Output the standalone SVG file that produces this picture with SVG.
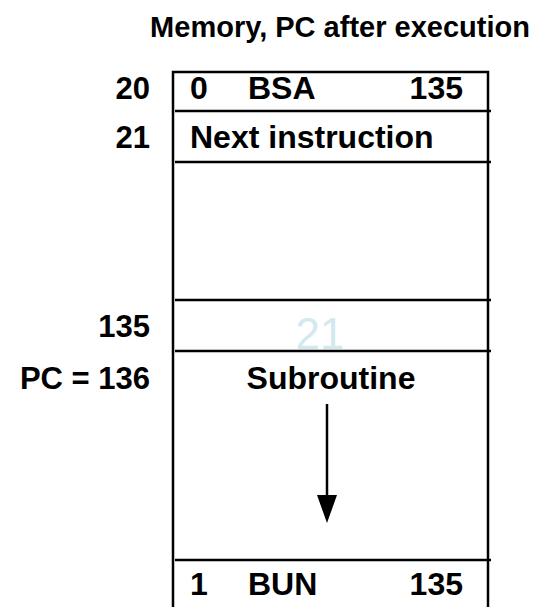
<svg xmlns="http://www.w3.org/2000/svg" width="556" height="607" viewBox="0 0 556 607">
  <style>
    text { font-family: "Liberation Sans", Arial, sans-serif; font-weight: bold; fill: #000; }
    .cell { font-size: 32px; }
    .addr { font-size: 31px; text-anchor: end; }
    .title { font-size: 29px; text-anchor: middle; }
    .ghost { font-size: 44px; font-weight: normal; fill: #d3e9ee; text-anchor: middle; }
    .rule { stroke: #000; stroke-width: 2.5; fill: none; }
  </style>
  <defs>
    <marker id="head" viewBox="0 0 28 20" refX="0" refY="10" markerWidth="28" markerHeight="20" markerUnits="userSpaceOnUse" orient="auto">
      <path d="M0,0 L28,10 L0,20 Z" fill="#000"/>
    </marker>
  </defs>

  <text class="title" x="340" y="37">Memory, PC after execution</text>

  <!-- memory column -->
  <g id="memory">
    <path class="rule" d="M173,607 V72 H488 V607"/>
    <path class="rule" d="M175,111 H491 M175,162 H491 M175,300 H491 M175,351 H491 M175,560 H491"/>
  </g>

  <!-- address labels -->
  <g id="addresses">
    <text class="addr" x="150" y="99">20</text>
    <text class="addr" x="150" y="148">21</text>
    <text class="addr" x="150" y="337">135</text>
    <text class="addr" x="150" y="389">PC = 136</text>
  </g>

  <g id="word-20">
    <text class="cell" x="190" y="99">0</text>
    <text class="cell" x="248" y="99">BSA</text>
    <text class="cell" x="463" y="99" text-anchor="end">135</text>
  </g>
  <g id="word-21">
    <text class="cell" x="190" y="148">Next instruction</text>
  </g>
  <g id="word-135">
    <text class="ghost" x="320" y="349">21</text>
  </g>
  <g id="word-136">
    <text class="cell" x="331" y="389" text-anchor="middle">Subroutine</text>
  </g>
  <g id="word-bun">
    <text class="cell" x="190" y="595">1</text>
    <text class="cell" x="248" y="595">BUN</text>
    <text class="cell" x="463" y="595" text-anchor="end">135</text>
  </g>

  <g id="connectors">
    <line x1="327" y1="404" x2="327" y2="495" stroke="#000" stroke-width="2.5" marker-end="url(#head)"/>
  </g>
</svg>
